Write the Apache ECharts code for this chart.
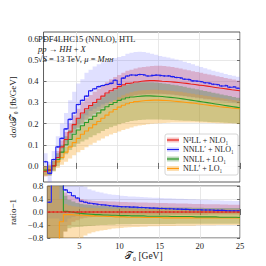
<!DOCTYPE html>
<html><head><meta charset="utf-8">
<script src="https://cdn.jsdelivr.net/npm/echarts@6/dist/echarts.min.js"></script>
<style>html,body{margin:0;padding:0;background:#fff}#c{width:266px;height:266px}</style>
</head><body><div id="c"></div>
<script>
// ---- data ----
const binEdges = [1,1.5,2,2.5,3,3.5,4,4.5,5,5.5,6,6.5,7,7.5,8,8.5,9,9.5,10,10.5,11,11.5,12,12.5,13,13.5,14,14.5,15,15.5,16,16.5,17,17.5,18,18.5,19,19.5,20,20.5,21,21.5,22,22.5,23,23.5,24,24.5,25];
const xTicks = [5,10,15,20,25];
const yTicksMain = [0,0.1,0.2,0.3,0.4,0.5,0.6];

// main panel: d sigma / d T0  [fb/GeV]
const n3ll = [-0.025,-0.02,0.0,0.04,0.09,0.125,0.16,0.195,0.225,0.25,0.27,0.285,0.30,0.315,0.33,0.345,0.355,0.365,0.375,0.383,0.39,0.393,0.397,0.40,0.402,0.403,0.403,0.402,0.40,0.399,0.398,0.396,0.394,0.392,0.39,0.387,0.385,0.382,0.38,0.377,0.374,0.371,0.368,0.366,0.363,0.36,0.358,0.355];
const n3llHi = [0.0,0.005,0.025,0.07,0.12,0.16,0.2,0.24,0.27,0.3,0.32,0.335,0.35,0.365,0.38,0.395,0.41,0.42,0.43,0.44,0.45,0.455,0.46,0.465,0.468,0.47,0.472,0.473,0.473,0.472,0.47,0.467,0.464,0.46,0.456,0.452,0.448,0.444,0.44,0.436,0.432,0.428,0.424,0.42,0.416,0.412,0.408,0.404];
const n3llLo = [-0.05,-0.045,-0.02,0.015,0.06,0.095,0.125,0.155,0.18,0.2,0.218,0.232,0.246,0.26,0.273,0.286,0.296,0.305,0.313,0.32,0.326,0.33,0.334,0.337,0.339,0.34,0.341,0.341,0.341,0.34,0.339,0.337,0.335,0.333,0.331,0.328,0.326,0.323,0.321,0.318,0.316,0.313,0.311,0.309,0.307,0.304,0.302,0.3];

const nnllp = [0.02,-0.035,0.03,0.09,0.13,0.175,0.22,0.25,0.29,0.31,0.33,0.355,0.365,0.375,0.38,0.385,0.39,0.405,0.385,0.415,0.425,0.43,0.428,0.432,0.43,0.425,0.428,0.43,0.427,0.425,0.426,0.422,0.418,0.415,0.41,0.408,0.402,0.4,0.398,0.393,0.39,0.386,0.384,0.378,0.38,0.372,0.374,0.367];
const nnllpHi = [0.06,0.02,0.07,0.14,0.2,0.25,0.31,0.35,0.39,0.41,0.44,0.455,0.47,0.48,0.49,0.495,0.5,0.51,0.515,0.52,0.53,0.535,0.538,0.54,0.538,0.535,0.53,0.525,0.52,0.516,0.512,0.508,0.503,0.498,0.492,0.486,0.48,0.474,0.468,0.462,0.456,0.45,0.445,0.44,0.435,0.43,0.426,0.422];
const nnllpLo = [-0.03,-0.08,-0.01,0.04,0.08,0.115,0.15,0.175,0.2,0.22,0.24,0.26,0.27,0.28,0.29,0.298,0.305,0.31,0.315,0.32,0.325,0.33,0.333,0.335,0.336,0.337,0.338,0.338,0.338,0.337,0.336,0.334,0.332,0.33,0.328,0.325,0.322,0.319,0.316,0.313,0.31,0.307,0.305,0.302,0.3,0.298,0.296,0.294];

const nnll = [-0.02,-0.02,0.0,0.03,0.065,0.10,0.125,0.15,0.17,0.19,0.205,0.22,0.235,0.25,0.265,0.28,0.29,0.30,0.31,0.316,0.322,0.326,0.328,0.33,0.331,0.331,0.33,0.329,0.328,0.326,0.324,0.322,0.32,0.317,0.314,0.311,0.308,0.305,0.302,0.299,0.296,0.293,0.29,0.287,0.284,0.281,0.278,0.275];
const nnllHi = [0.0,0.0,0.025,0.06,0.1,0.14,0.17,0.2,0.225,0.245,0.265,0.28,0.295,0.31,0.325,0.34,0.35,0.36,0.37,0.378,0.385,0.39,0.393,0.395,0.396,0.396,0.395,0.394,0.392,0.39,0.387,0.384,0.381,0.378,0.374,0.37,0.366,0.362,0.358,0.354,0.35,0.346,0.342,0.338,0.334,0.33,0.326,0.322];
const nnllLo = [-0.045,-0.045,-0.025,0.0,0.03,0.055,0.075,0.09,0.105,0.115,0.125,0.135,0.145,0.155,0.165,0.175,0.183,0.19,0.197,0.203,0.208,0.212,0.215,0.217,0.218,0.219,0.219,0.219,0.219,0.218,0.218,0.217,0.216,0.215,0.214,0.213,0.212,0.211,0.21,0.209,0.208,0.207,0.206,0.205,0.204,0.203,0.202,0.2];

const nllp = [-0.02,-0.015,0.0,0.02,0.04,0.065,0.09,0.11,0.13,0.15,0.165,0.18,0.195,0.21,0.225,0.24,0.255,0.267,0.278,0.287,0.294,0.30,0.304,0.307,0.309,0.31,0.311,0.311,0.31,0.309,0.308,0.306,0.304,0.302,0.30,0.298,0.296,0.293,0.29,0.288,0.285,0.283,0.28,0.278,0.276,0.274,0.272,0.27];
const nllpHi = [0.0,0.005,0.02,0.04,0.065,0.09,0.12,0.145,0.17,0.19,0.21,0.225,0.24,0.255,0.27,0.285,0.3,0.312,0.324,0.334,0.342,0.348,0.353,0.356,0.358,0.359,0.36,0.36,0.359,0.358,0.356,0.354,0.352,0.35,0.347,0.344,0.341,0.338,0.335,0.332,0.329,0.326,0.323,0.32,0.317,0.314,0.311,0.308];
const nllpLo = [-0.045,-0.04,-0.025,-0.01,0.005,0.02,0.035,0.05,0.065,0.075,0.088,0.1,0.11,0.12,0.13,0.14,0.148,0.156,0.163,0.17,0.176,0.182,0.187,0.191,0.194,0.197,0.199,0.201,0.202,0.203,0.204,0.205,0.205,0.205,0.205,0.205,0.205,0.205,0.204,0.204,0.203,0.203,0.202,0.202,0.201,0.2,0.2,0.199];

// ratio panel: ratio - 1
const n3llR = [0,0,0,0,0,0,0,0,0,0,0,0,0,0,0,0,0,0,0,0,0,0,0,0,0,0,0,0,0,0,0,0,0,0,0,0,0,0,0,0,0,0,0,0,0,0,0,0];
const n3llRHi = [0.9,0.9,0.9,0.9,0.6,0.52,0.47,0.43,0.4,0.38,0.36,0.35,0.34,0.335,0.33,0.325,0.32,0.315,0.31,0.305,0.3,0.3,0.295,0.29,0.29,0.285,0.285,0.28,0.28,0.275,0.27,0.27,0.265,0.26,0.26,0.255,0.25,0.25,0.245,0.24,0.24,0.235,0.235,0.23,0.23,0.225,0.225,0.22];
const n3llRLo = [-0.9,-0.9,-0.9,-0.9,-0.6,-0.4,-0.3,-0.25,-0.2,-0.18,-0.16,-0.15,-0.14,-0.13,-0.13,-0.12,-0.12,-0.12,-0.12,-0.11,-0.11,-0.11,-0.11,-0.1,-0.1,-0.1,-0.1,-0.1,-0.1,-0.1,-0.1,-0.1,-0.09,-0.09,-0.09,-0.09,-0.09,-0.09,-0.09,-0.09,-0.08,-0.08,-0.08,-0.08,-0.08,-0.08,-0.08,-0.08];

const nnllpR = [0.3,0.9,0.9,0.9,0.68,0.6,0.5,0.43,0.33,0.3,0.27,0.25,0.23,0.22,0.21,0.19,0.18,0.17,0.16,0.16,0.15,0.15,0.14,0.14,0.13,0.12,0.12,0.11,0.11,0.1,0.1,0.09,0.09,0.08,0.08,0.07,0.07,0.07,0.06,0.06,0.06,0.05,0.05,0.05,0.04,0.04,0.04,0.04];
const nnllpRHi = [0.9,0.9,0.9,0.9,0.9,0.9,0.9,0.9,0.85,0.78,0.7,0.66,0.62,0.6,0.57,0.55,0.53,0.52,0.5,0.49,0.48,0.475,0.47,0.46,0.455,0.45,0.44,0.435,0.43,0.425,0.42,0.415,0.41,0.405,0.4,0.395,0.39,0.385,0.38,0.375,0.37,0.365,0.36,0.355,0.35,0.345,0.342,0.34];
const nnllpRLo = [-0.2,-0.2,-0.2,-0.3,-0.3,-0.2,-0.15,-0.12,-0.1,-0.09,-0.09,-0.08,-0.08,-0.08,-0.07,-0.07,-0.07,-0.07,-0.07,-0.07,-0.06,-0.06,-0.06,-0.06,-0.06,-0.06,-0.06,-0.06,-0.06,-0.06,-0.06,-0.06,-0.05,-0.05,-0.05,-0.05,-0.05,-0.05,-0.05,-0.05,-0.05,-0.05,-0.05,-0.05,-0.05,-0.05,-0.05,-0.05];

const nnllR = [0.9,0.9,0.9,0.9,0.02,0.0,-0.02,-0.04,-0.05,-0.06,-0.07,-0.08,-0.08,-0.09,-0.09,-0.1,-0.1,-0.11,-0.11,-0.11,-0.12,-0.12,-0.12,-0.12,-0.13,-0.13,-0.13,-0.13,-0.13,-0.13,-0.14,-0.14,-0.14,-0.14,-0.14,-0.14,-0.15,-0.15,-0.15,-0.15,-0.15,-0.15,-0.16,-0.16,-0.16,-0.16,-0.16,-0.17];
const nnllRHi = [0.9,0.9,0.9,0.9,0.5,0.38,0.32,0.28,0.25,0.23,0.22,0.21,0.2,0.19,0.185,0.18,0.175,0.17,0.17,0.165,0.165,0.16,0.16,0.155,0.155,0.15,0.15,0.15,0.15,0.145,0.145,0.14,0.14,0.14,0.135,0.135,0.13,0.13,0.13,0.125,0.125,0.125,0.12,0.12,0.12,0.12,0.12,0.12];
const nnllRLo = [-0.9,-0.9,-0.9,-0.9,-0.6,-0.5,-0.47,-0.46,-0.45,-0.44,-0.43,-0.42,-0.41,-0.4,-0.4,-0.39,-0.39,-0.38,-0.38,-0.38,-0.38,-0.37,-0.37,-0.37,-0.37,-0.37,-0.37,-0.37,-0.37,-0.37,-0.37,-0.37,-0.36,-0.36,-0.36,-0.36,-0.36,-0.36,-0.36,-0.36,-0.36,-0.36,-0.36,-0.36,-0.36,-0.36,-0.36,-0.36];

const nllpR = [-0.9,-0.9,-0.9,-0.3,-0.08,-0.08,-0.09,-0.1,-0.1,-0.11,-0.12,-0.12,-0.13,-0.13,-0.14,-0.14,-0.15,-0.15,-0.15,-0.16,-0.16,-0.16,-0.16,-0.17,-0.17,-0.17,-0.17,-0.17,-0.18,-0.18,-0.18,-0.18,-0.18,-0.18,-0.18,-0.18,-0.18,-0.18,-0.18,-0.18,-0.18,-0.18,-0.18,-0.18,-0.18,-0.18,-0.18,-0.18];
const nllpRHi = [0.9,0.9,0.9,0.4,0.25,0.2,0.18,0.16,0.15,0.14,0.13,0.12,0.12,0.11,0.11,0.1,0.1,0.1,0.1,0.1,0.1,0.1,0.09,0.09,0.09,0.09,0.09,0.09,0.09,0.09,0.09,0.09,0.08,0.08,0.08,0.08,0.08,0.08,0.08,0.08,0.08,0.08,0.08,0.08,0.08,0.08,0.08,0.08];
const nllpRLo = [-0.9,-0.9,-0.9,-0.9,-0.9,-0.9,-0.9,-0.88,-0.8,-0.72,-0.66,-0.62,-0.59,-0.57,-0.55,-0.53,-0.51,-0.5,-0.49,-0.48,-0.47,-0.46,-0.46,-0.45,-0.45,-0.44,-0.44,-0.44,-0.43,-0.43,-0.43,-0.43,-0.42,-0.42,-0.42,-0.42,-0.42,-0.41,-0.41,-0.41,-0.41,-0.41,-0.4,-0.4,-0.4,-0.4,-0.4,-0.4];

const legendNames = ['N³LL + NLO₁', 'NNLL′ + NLO₁', 'NNLL + LO₁', 'NLL′ + LO₁'];

// ---- styles ----
const lineColors = ['#e8201a', '#2020f0', '#2a9a2a', '#ff9a10'];
const bandColors = ['rgba(225,60,60,0.3)', 'rgba(100,100,255,0.2)', 'rgba(50,130,40,0.32)', 'rgba(245,160,30,0.34)'];
const FONT = 'Liberation Serif';

const mainSets = [[n3ll,n3llLo,n3llHi],[nnllp,nnllpLo,nnllpHi],[nnll,nnllLo,nnllHi],[nllp,nllpLo,nllpHi]];
const ratioSets = [[n3llR,n3llRLo,n3llRHi],[nnllpR,nnllpRLo,nnllpRHi],[nnllR,nnllRLo,nnllRHi],[nllpR,nllpRLo,nllpRHi]];

function stepData(v) {
  const d = v.map((y, i) => [binEdges[i], y]);
  d.push([binEdges[v.length], v[v.length - 1]]);
  return d;
}
function bandSeries(lo, hi, color, xi, yi) {
  return {
    type: 'custom', xAxisIndex: xi, yAxisIndex: yi, clip: true, z: 1, silent: true,
    data: [[binEdges[0], lo[0], hi[0]]],
    renderItem: function (params, api) {
      const pts = [];
      for (let i = 0; i < hi.length; i++) {
        pts.push(api.coord([binEdges[i], hi[i]]));
        pts.push(api.coord([binEdges[i + 1], hi[i]]));
      }
      for (let i = lo.length - 1; i >= 0; i--) {
        pts.push(api.coord([binEdges[i + 1], lo[i]]));
        pts.push(api.coord([binEdges[i], lo[i]]));
      }
      return { type: 'polygon', shape: { points: pts }, style: { fill: color } };
    }
  };
}
function lineSeries(v, color, xi, yi, name) {
  return {
    type: 'line', name: name, xAxisIndex: xi, yAxisIndex: yi, step: 'end', showSymbol: false,
    data: stepData(v), lineStyle: { color: color, width: 1.1 }, itemStyle: { color: color },
    z: 3, silent: true, animation: false, clip: true
  };
}
function markerSeries(v, color, xi, yi) {
  return {
    type: 'scatter', xAxisIndex: xi, yAxisIndex: yi, symbol: 'rect', symbolSize: [1.6, 1.6],
    data: v.map((y, i) => [(binEdges[i] + binEdges[i + 1]) / 2, y]),
    itemStyle: { color: color }, z: 4, silent: true, clip: true
  };
}

const series = [];
[0,1,2,3].forEach(k => {
  series.push(bandSeries(mainSets[k][1], mainSets[k][2], bandColors[k], 0, 0));
  series.push(bandSeries(ratioSets[k][1], ratioSets[k][2], bandColors[k], 2, 2));
});
[3,2,0,1].forEach(k => {
  series.push(lineSeries(mainSets[k][0], lineColors[k], 0, 0, legendNames[k]));
  series.push(lineSeries(ratioSets[k][0], lineColors[k], 2, 2, legendNames[k]));
});
series.push(markerSeries(nnllp, lineColors[1], 0, 0));
series.push(markerSeries(nnllpR, lineColors[1], 2, 2));
series.push(markerSeries(n3llR, lineColors[0], 2, 2));

const tickStyle = { inside: true, length: 3, lineStyle: { color: '#333', width: 0.7 } };
const splitStyle = { show: true, lineStyle: { color: '#e2e2e2', width: 0.8 } };
const labelStyle = { fontFamily: FONT, fontSize: 8.5, color: '#222' };

function xAx(grid, pos, labels, split, extra) {
  return Object.assign({
    type: 'value', gridIndex: grid, position: pos, min: 1, max: 25,
    axisLine: { show: false },
    axisTick: Object.assign({ customValues: xTicks }, tickStyle),
    axisLabel: Object.assign({ show: labels, customValues: xTicks, margin: 3 }, labelStyle),
    splitLine: split ? splitStyle : { show: false }
  }, extra || {});
}

const option = {
  animation: false,
  backgroundColor: '#fff',
  grid: [
    { left: 33, top: 32, width: 207, height: 150, show: true, borderColor: '#333', borderWidth: 0.8, backgroundColor: 'transparent' },
    { left: 33, top: 186, width: 207, height: 52, show: true, borderColor: '#333', borderWidth: 0.8, backgroundColor: 'transparent' }
  ],
  xAxis: [
    xAx(0, 'bottom', false, true),
    xAx(0, 'top', false, false),
    xAx(1, 'bottom', true, true, { name: '𝒯₀ [GeV]', nameLocation: 'middle', nameGap: 13,
      nameTextStyle: { fontFamily: FONT, fontSize: 9.5, color: '#222' } }),
    xAx(1, 'top', false, false)
  ],
  yAxis: [
    { type: 'value', gridIndex: 0, position: 'left', min: -0.076, max: 0.633,
      axisLine: { show: false },
      axisTick: Object.assign({ customValues: yTicksMain }, tickStyle),
      axisLabel: Object.assign({ customValues: yTicksMain, margin: 5, formatter: v => v.toFixed(1) }, labelStyle),
      splitLine: splitStyle,
      name: 'dσ/d𝒯₀ [fb/GeV]', nameLocation: 'middle', nameGap: 21,
      nameTextStyle: { fontFamily: FONT, fontSize: 9, color: '#222' } },
    { type: 'value', gridIndex: 0, position: 'right', min: -0.076, max: 0.633,
      axisLine: { show: false }, axisTick: Object.assign({ customValues: yTicksMain }, tickStyle),
      axisLabel: { show: false }, splitLine: { show: false } },
    { type: 'value', gridIndex: 1, position: 'left', min: -0.8, max: 0.8, interval: 0.4,
      axisLine: { show: false }, axisTick: tickStyle,
      axisLabel: Object.assign({ margin: 4, formatter: v => (v < 0 ? '−' : '') + Math.abs(v).toFixed(1) }, labelStyle),
      splitLine: splitStyle,
      name: 'ratio−1', nameLocation: 'middle', nameGap: 22,
      nameTextStyle: { fontFamily: FONT, fontSize: 9, color: '#222' } },
    { type: 'value', gridIndex: 1, position: 'right', min: -0.8, max: 0.8, interval: 0.4,
      axisLine: { show: false }, axisTick: tickStyle, axisLabel: { show: false }, splitLine: { show: false } }
  ],
  series: series,
  graphic: []
};

// annotation text
option.graphic.push({ type: 'text', left: 38, top: 34, style: { text: 'PDF4LHC15 (NNLO), HTL', font: '8.5px "Liberation Serif"', fill: '#222' }, z: 10 });
option.graphic.push({ type: 'text', left: 38, top: 44, style: { text: '{i|pp} → {i|HH} + {i|X}', font: '8.5px "Liberation Serif"', fill: '#222',
  rich: { i: { fontStyle: 'italic', fontFamily: FONT, fontSize: 8.5 } } }, z: 10 });
option.graphic.push({ type: 'text', left: 38, top: 54, style: { text: '√{i|S} = 13 TeV, {i|μ} = {i|M}{s|HH}', font: '8.5px "Liberation Serif"', fill: '#222',
  rich: { i: { fontStyle: 'italic', fontFamily: FONT, fontSize: 8.5 }, s: { fontStyle: 'italic', fontFamily: FONT, fontSize: 6, verticalAlign: 'bottom', padding: [3,0,0,0] } } }, z: 10 });

// legend box
const lgX = 165, lgY = 134, lgRows = [140, 149.5, 159, 168.5];
option.graphic.push({ type: 'rect', shape: { x: lgX, y: lgY, width: 73, height: 41, r: 2 },
  style: { fill: 'rgba(255,255,255,0.85)', stroke: '#ccc', lineWidth: 0.8 }, z: 20 });
lgRows.forEach((yy, k) => {
  option.graphic.push({ type: 'rect', shape: { x: lgX + 2, y: yy - 2.5, width: 12, height: 5 }, style: { fill: bandColors[k] }, z: 21 });
  option.graphic.push({ type: 'line', shape: { x1: lgX + 2, y1: yy, x2: lgX + 14, y2: yy }, style: { stroke: lineColors[k], lineWidth: 1.2 }, z: 22 });
  option.graphic.push({ type: 'text', x: lgX + 18, y: yy, style: { text: legendNames[k], font: '8px "Liberation Serif"', fill: '#222', verticalAlign: 'middle' }, z: 22 });
});

const chart = echarts.init(document.getElementById('c'), null, { renderer: 'svg', width: 266, height: 266 });
chart.setOption(option);
</script>
</body></html>
